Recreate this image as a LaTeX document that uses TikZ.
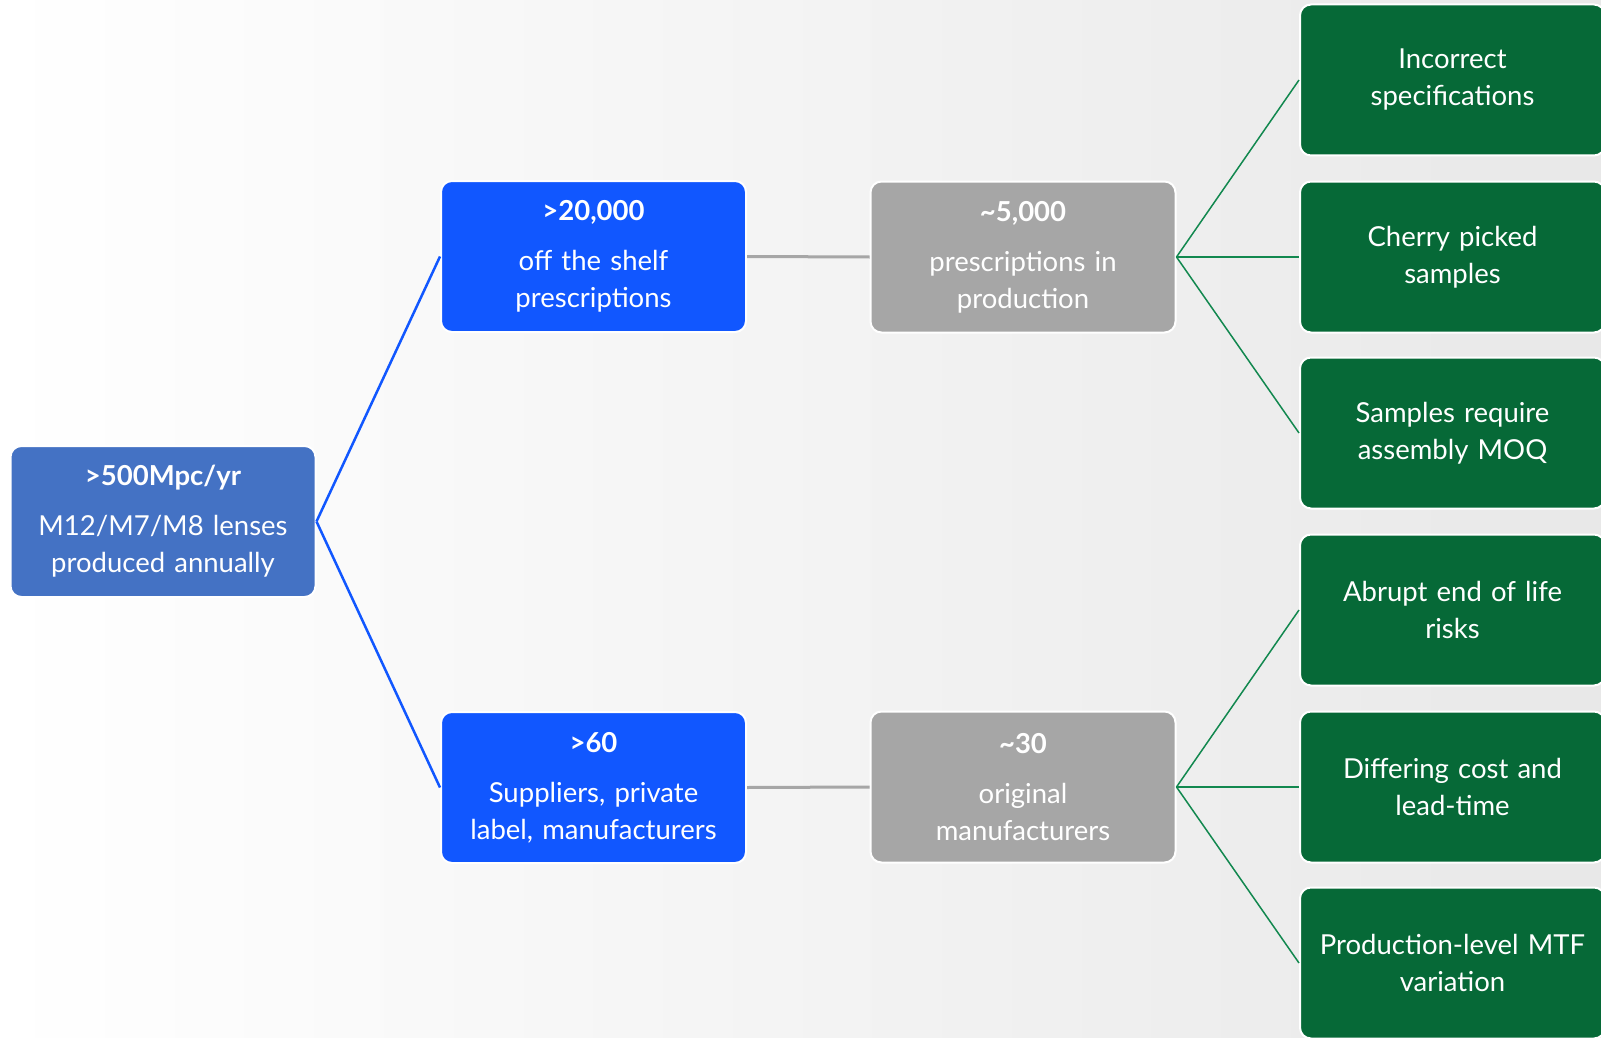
\documentclass[tikz,border=0pt]{standalone}
\usepackage{fontspec}
\setmainfont{Lato}
\usepackage{xcolor}
\usepackage{tikz}
\usetikzlibrary{positioning}

\definecolor{rootblue}{HTML}{4472C4}
\definecolor{brightblue}{HTML}{1157FF}
\definecolor{boxgray}{HTML}{A6A6A6}
\definecolor{darkgreen}{HTML}{066937}
\definecolor{linegreen}{HTML}{12884F}

\tikzset{
  box/.style={rectangle, rounded corners=11pt, draw=white, line width=2pt,
    minimum width=305pt, minimum height=151pt, inner sep=0pt,
    text width=300pt, align=center, text=white,
    font=\fontsize{27.5}{37}\selectfont},
  rootbox/.style={box, fill=rootblue},
  bluebox/.style={box, fill=brightblue},
  graybox/.style={box, fill=boxgray},
  greenbox/.style={box, fill=darkgreen},
  blueline/.style={brightblue, line width=2.5pt},
  grayline/.style={boxgray, line width=3pt},
  greenline/.style={linegreen, line width=1.5pt}
}

\begin{document}
\begin{tikzpicture}[x=1pt,y=-1pt]
    \useasboundingbox[shade, left color=white, right color=black!9] (0,0) rectangle (1601,1038);

    \node[rootbox] (root) at (163,521.5) {\textbf{>500Mpc/yr}\\[13pt] M12/M7/M8 lenses\\produced annually};

    \node[bluebox] (shelf) at (593.5,256.5) {\textbf{>20,000}\\[13pt] off the shelf\\prescriptions};
    \node[bluebox] (suppliers) at (593.5,787.5) {\textbf{>60}\\[13pt] Suppliers, private\\label, manufacturers};

    \node[graybox] (production) at (1023,257) {\textbf{\textasciitilde5,000}\\[13pt] prescriptions in\\production};
    \node[graybox] (original) at (1023,787) {\textbf{\textasciitilde30}\\[13pt] original\\manufacturers};

    \node[greenbox] (specs) at (1452.5,80) {Incorrect\\specifications};
    \node[greenbox] (cherry) at (1452.5,257) {Cherry picked\\samples};
    \node[greenbox] (moq) at (1452.5,433) {Samples require\\assembly MOQ};
    \node[greenbox] (eol) at (1452.5,610) {Abrupt end of life\\risks};
    \node[greenbox] (cost) at (1452.5,787) {Differing cost and\\lead-time};
    \node[greenbox] (mtf) at (1452.5,963) {Production-level MTF\\variation};

    \draw[blueline] (root.east) -- (shelf.west);
    \draw[blueline] (root.east) -- (suppliers.west);
    \draw[grayline] (shelf.east) -- (production.west);
    \draw[grayline] (suppliers.east) -- (original.west);
    \draw[greenline] (production.east) -- (specs.west);
    \draw[greenline] (production.east) -- (cherry.west);
    \draw[greenline] (production.east) -- (moq.west);
    \draw[greenline] (original.east) -- (eol.west);
    \draw[greenline] (original.east) -- (cost.west);
    \draw[greenline] (original.east) -- (mtf.west);
\end{tikzpicture}
\end{document}
